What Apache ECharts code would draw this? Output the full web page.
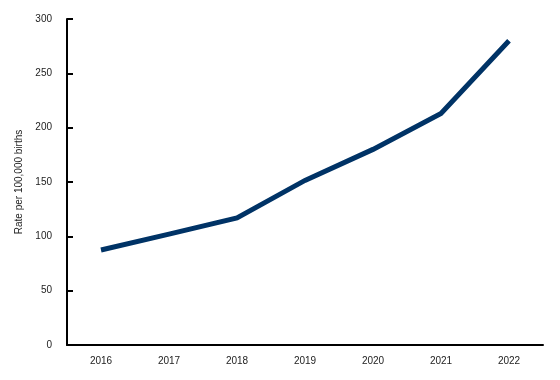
<!DOCTYPE html>
<html><head><meta charset="utf-8">
<script src="https://cdn.jsdelivr.net/npm/echarts@6/dist/echarts.min.js"></script>
<style>html,body{margin:0;padding:0;background:#fff}#c{width:560px;height:380px}</style>
</head><body><div id="c"></div>
<script>
const years = ['2016','2017','2018','2019','2020','2021','2022'];
const rates = [87.4, 102, 117, 151.5, 180, 213, 280];
const yTicks = [0, 50, 100, 150, 200, 250, 300];
const yAxisName = 'Rate per 100,000 births';

const chart = echarts.init(document.getElementById('c'), null, {renderer:'canvas'});
chart.setOption({
  animation:false,
  backgroundColor:'#ffffff',
  grid:{left:67, right:17, top:19, bottom:35, containLabel:false},
  xAxis:{
    type:'category', data:years, boundaryGap:true,
    axisLine:{lineStyle:{color:'#000', width:2}},
    axisTick:{inside:true, alignWithLabel:true, length:6, lineStyle:{color:'#000', width:2}},
    axisLabel:{color:'#222', fontFamily:'Liberation Sans, Arial, sans-serif', fontSize:10, margin:11}
  },
  yAxis:{
    type:'value', min:yTicks[0], max:yTicks[yTicks.length-1], interval:50,
    name:yAxisName, nameLocation:'middle', nameGap:43, nameRotate:90,
    nameTextStyle:{color:'#222', fontFamily:'Liberation Sans, Arial, sans-serif', fontSize:10},
    splitLine:{show:false},
    axisLine:{show:true, lineStyle:{color:'#000', width:2}},
    axisTick:{show:true, inside:true, length:6, lineStyle:{color:'#000', width:2}},
    axisLabel:{color:'#222', fontFamily:'Liberation Sans, Arial, sans-serif', fontSize:10, margin:15}
  },
  series:[{
    type:'line', data:rates, symbol:'none',
    lineStyle:{color:'#003366', width:5, cap:'butt', join:'miter'}
  }]
});
</script></body></html>
